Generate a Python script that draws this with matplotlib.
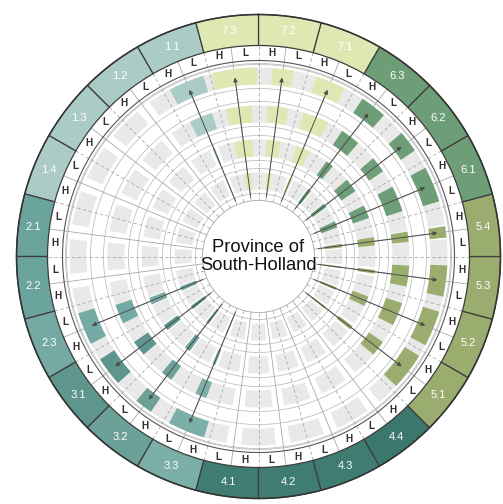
import numpy as np
import matplotlib
matplotlib.use("Agg")
import matplotlib.pyplot as plt

# indicator codes, counter-clockwise starting at 1.1
codes = ["1.1", "1.2", "1.3", "1.4", "2.1", "2.2", "2.3", "3.1", "3.2", "3.3",
         "4.1", "4.2", "4.3", "4.4", "5.1", "5.2", "5.3", "5.4",
         "6.1", "6.2", "6.3", "7.1", "7.2", "7.3"]
sector_colors = ["#abcbc7", "#abcbc7", "#abcbc7", "#abcbc7",
                 "#6aa49d", "#6aa49d", "#74aaa3",
                 "#5e958c", "#6ca19a", "#7cafa8",
                 "#3f7d73", "#3f7d73", "#3f7d73", "#3b776d",
                 "#9aad6f", "#9aad6f", "#9aad6f", "#9aad6f",
                 "#6d9e77", "#6d9e77", "#6d9e77",
                 "#dde8b3", "#dde8b3", "#dde8b3"]
scenarios = ["H", "L"]

# angular width (degrees) of each indicator's bar, per ring (inner -> outer)
ring1 = [0, 0, 0, 0, 0, 0, 3, 2.5, 2, 1, 0, 0, 0, 0, 1.5, 2, 1.2, 2.5, 4.5, 3, 2.5, 2.5, 4, 5]
ring2 = [1.2, 0, 0, 0, 0, 0, 3.5, 3, 3, 1.5, 0, 0, 0, 0, 2, 5, 1.8, 4.2, 6.5, 7, 4, 7, 7, 9]
ring3 = [9, 0, 0, 0, 0, 0, 7.5, 6, 4.5, 4.5, 0, 0, 0, 0, 6, 9, 8, 4, 10, 6.2, 7.7, 10, 8, 10]
ring4 = [11, 0, 0, 0, 0, 0, 10, 9, 5.5, 11.5, 0, 0, 0, 0, 11.5, 11, 9.5, 3.5, 11, 6.7, 8.2, 9.3, 6.5, 14]
rings = [ring1, ring2, ring3, ring4]

W, H = 503, 504
CX, CY = 258.5, 256.5
RP = 245.0
R_OUT, R_LAB, R_HL = 242, 211, 196
R_CORE = 56
BANDS = [(67, 84), (100, 117), (134, 151), (172, 189)]

fig = plt.figure(figsize=(W / 100, H / 100), dpi=100)
ax = fig.add_axes([(CX - RP) / W, (H - CY - RP) / H, 2 * RP / W, 2 * RP / H],
                  projection="polar")
ax.set_theta_zero_location("N")
ax.set_theta_direction(-1)
ax.set_ylim(0, RP)
ax.set_axis_off()

rad = np.deg2rad
n = len(codes)
centers = np.array([(337.5 - 15 * i) % 360 for i in range(n)])
bounds = (centers + 7.5) % 360
full = np.linspace(0, 2 * np.pi, 721)

# light grey cells straddling the indicator boundaries
for lo, hi in BANDS:
    ax.bar(rad(bounds), hi - lo, width=rad(10.5), bottom=lo,
           color="#e9e9e9", linewidth=0, zorder=1)

# concentric guide circles
for lo, hi in BANDS:
    for r in (lo - 4, hi + 4):
        ax.plot(full, np.full_like(full, r), color="#b5b5b5", lw=0.5, zorder=2)
ax.plot(full, np.full_like(full, 192), color="#b5b5b5", lw=0.5, zorder=2)

# radial guides: solid between H and L, dashed between indicators
for c in centers:
    ax.plot([rad(c)] * 2, [R_CORE, R_LAB], color="#a8a8a8", lw=0.6, zorder=2)
for b in bounds:
    ax.plot([rad(b)] * 2, [R_CORE, R_LAB], color="#a8a8a8", lw=0.6,
            ls=(0, (4, 3)), zorder=2)

# indicator bars
for (lo, hi), vals in zip(BANDS, rings):
    vals = np.asarray(vals, dtype=float)
    m = vals > 0
    ax.bar(rad(centers[m]), hi - lo, width=rad(vals[m]), bottom=lo,
           color=np.array(sector_colors)[m], linewidth=0, zorder=3)

# arrows to the outer ring bars
r_tip = sum(BANDS[-1]) / 2
for c, v in zip(centers, ring4):
    if v > 0:
        ax.annotate("", xy=(rad(c), r_tip), xytext=(rad(c), R_CORE + 4),
                    arrowprops=dict(arrowstyle="-|>", color="#4d4d4d", lw=0.7,
                                    mutation_scale=6, shrinkA=0, shrinkB=0),
                    zorder=5)

# core
ax.bar(0, R_CORE, width=2 * np.pi, bottom=0, color="white", linewidth=0, zorder=4)
ax.plot(full, np.full_like(full, R_CORE), color="#a8a8a8", lw=0.6, zorder=4)

# H / L ring
ax.plot(full, np.full_like(full, R_HL), color="#555555", lw=0.8, zorder=4)
for c in centers:
    for off, s in zip((-3.75, 3.75), scenarios):
        ax.text(rad(c + off), 204, s, ha="center", va="center", fontsize=7.2,
                fontweight="bold", color="#2e2e2e", family="Liberation Sans",
                zorder=6)

# outer indicator ring
ax.bar(rad(centers), R_OUT - R_LAB, width=rad(15), bottom=R_LAB,
       color=sector_colors, edgecolor="#3d3d3d", linewidth=0.9, zorder=4)
ax.plot(full, np.full_like(full, R_OUT), color="#333333", lw=1.1, zorder=5)
for c, code in zip(centers, codes):
    ax.text(rad(c), 227, code, ha="center", va="center", fontsize=8,
            color="white", family="Liberation Sans", zorder=6)

ax.text(0, 0, "Province of\nSouth-Holland", ha="center", va="center",
        fontsize=13.2, family="Liberation Sans", color="#111111",
        linespacing=1.15, zorder=7)

fig.savefig("out.png", dpi=100)
